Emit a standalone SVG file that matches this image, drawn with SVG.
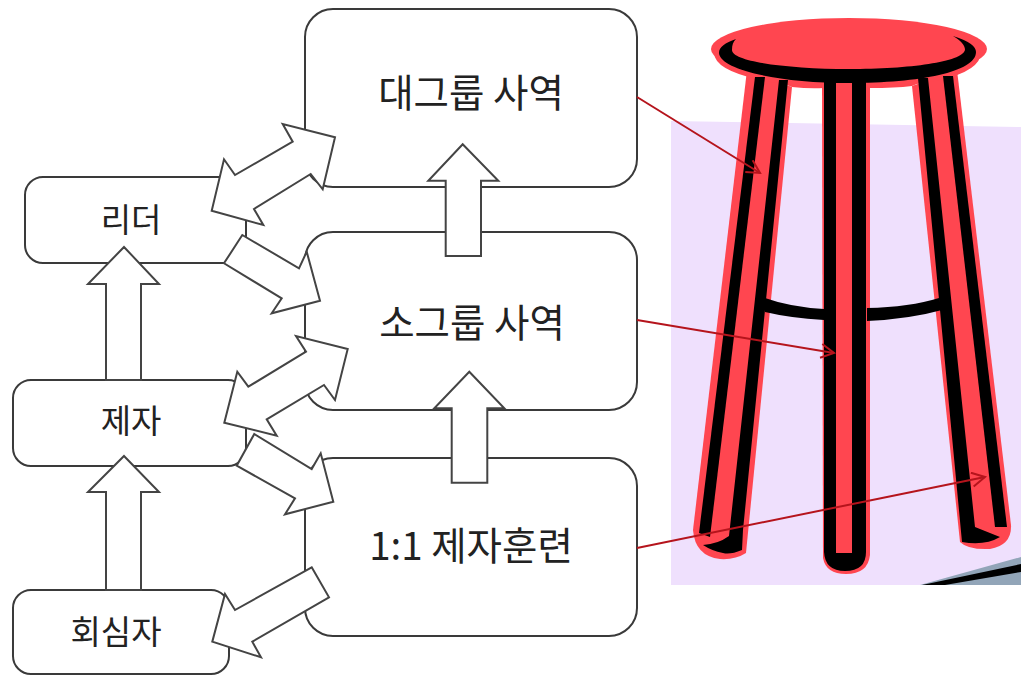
<svg xmlns="http://www.w3.org/2000/svg" width="1021" height="675" viewBox="0 0 1021 675">
<style>
.box{fill:#fff;stroke:#3a3a3a;stroke-width:2}
.arr{fill:#fff;stroke:#444;stroke-width:2;stroke-linejoin:miter}
.t{font-family:"Noto Sans CJK KR","Noto Sans",sans-serif;fill:#222;text-anchor:middle}
.big{font-size:38.5px}
.small{font-size:33px}
.red{fill:#ff4650}
.blk{fill:#000}
.lnk{fill:none;stroke:#b5141c;stroke-width:2;marker-end:url(#ah)}
</style>
<defs>
<marker id="ah" markerUnits="userSpaceOnUse" markerWidth="20" markerHeight="20" refX="15" refY="8" orient="auto">
<path d="M2,1 L15,8 L2,15" fill="none" stroke="#b5141c" stroke-width="2"/>
</marker>
</defs>
<g id="stool">
<polygon points="671,121 1021,127 1021,585 671,585" fill="#efe0fd"/>
<polygon points="920,585 1021,557 1021,585" fill="#92a5b8"/>
<polygon points="922,585 1021,564 1021,572 945,585" fill="#000"/>
<path class="red" d="M747,70 L792,87 L746,553 Q735,560 720,559 Q695,556 693,530 Z"/>
<path class="red" d="M912,86 L957,70 L1011,525 Q1012,545 990,549 Q968,550 960,542 Z"/>
<path class="red" d="M822,80 H870 V555 Q868,574 846,574 Q826,574 823,558 Z"/>
<path class="red" d="M750,70 L792,87 Q810,89 824,88 H870 Q895,88 912,86 L950,70 Z"/>
<ellipse class="red" cx="849" cy="49" rx="138" ry="31"/>
<path d="M719,53 C720,70 780,83 849,83 C920,83 976,72 976,52" fill="none" stroke="#ff4650" stroke-width="10"/>
<polygon class="blk" points="755,77 765,77 710,537 699,533"/>
<path class="blk" d="M779,80 L788,80 L743,530 L742,550 Q730,555 723,553 Q712,551 703,545 Q718,544 729,536 Z"/>
<path class="blk" d="M824,80 H836 V553 H852 V80 H866 V552 Q866,571 845,571 Q825,571 824,552 Z"/>
<path class="blk" d="M918,78 L928,78 L975,527 Q990,533 1000,537 Q985,546 962,542 Z"/>
<polygon class="blk" points="943,76 953,76 1007,527 995,527"/>
<path class="blk" d="M765,298 Q790,307 824,309 V320 Q790,318 765,312 Z"/>
<path class="blk" d="M867,308 Q910,307 939,298 L942,310 Q910,319 867,321 Z"/>
<path class="blk" d="M736,39 C725,43 719,47 719,53 C720,70 780,83 849,83 C920,83 976,72 976,52 C976,47 970,41 953,36 C961,41 965,45 965,50 C962,62 910,69 849,69 C790,69 732,62 732,50 C732,45 733,42 736,39 Z"/>
</g>
<g id="node-large">
<rect class="box" x="305" y="9" width="332" height="178" rx="28"/>
<text class="t big" x="471" y="107">대그룹 사역</text>
</g>
<g id="node-small">
<rect class="box" x="305" y="232" width="332" height="178" rx="28"/>
<text class="t big" x="472" y="337">소그룹 사역</text>
</g>
<g id="node-one">
<rect class="box" x="305" y="458" width="332" height="178" rx="28"/>
<text class="t big" x="471" y="560">1:1 제자훈련</text>
</g>
<g id="node-leader">
<rect class="box" x="25" y="177" width="221" height="86" rx="18"/>
<text class="t small" x="131" y="232">리더</text>
</g>
<g id="node-disciple">
<rect class="box" x="13" y="380" width="233" height="86" rx="18"/>
<text class="t small" x="131" y="433">제자</text>
</g>
<g id="node-convert">
<rect class="box" x="13" y="590" width="216" height="84" rx="18"/>
<text class="t small" x="116" y="644">회심자</text>
</g>
<g id="connectors">
<polygon class="arr" points="462.7,144.3 498.3,180.7 481,180.7 481,256 445.7,256 445.7,180.7 428.3,180.7"/>
<polygon class="arr" points="469.3,371.7 504.3,408.3 487.3,408.3 487.3,482.7 451.7,482.7 451.7,408.3 434.3,408.3"/>
<polygon class="arr" points="124,247 159,284 141,284 141,380 106,380 106,284 88,284"/>
<polygon class="arr" points="124,456 159,492 141,492 141,590 106,590 106,492 88,492"/>
<polygon class="arr" points="335,137.3 282.7,124 292.7,141.7 235,175 224,159.3 211.7,210.7 263.3,225 254,209 310.7,174 322.7,189.3"/>
<polygon class="arr" points="242.3,235 299,268.3 306.7,251.7 320,300.7 271.7,313.3 281.7,298.3 224,263.3"/>
<polygon class="arr" points="347.7,349 296,336 306,351.7 248.3,386.7 237.3,371.7 224.3,422.7 276.7,435.7 266.7,419.3 324,385 335,400"/>
<polygon class="arr" points="254.3,434 311.7,469 320.7,453.3 333.3,501.7 285,514.3 295,498.3 236.7,465.7"/>
<polygon class="arr" points="311.7,567.3 329,597.3 252.3,641.7 261,657.3 212.3,641.7 225,594 235,610"/>
<line class="lnk" x1="637" y1="97" x2="760" y2="173"/>
<line class="lnk" x1="637" y1="320" x2="834" y2="353"/>
<line class="lnk" x1="637" y1="548" x2="985" y2="477"/>
</g>
</svg>
